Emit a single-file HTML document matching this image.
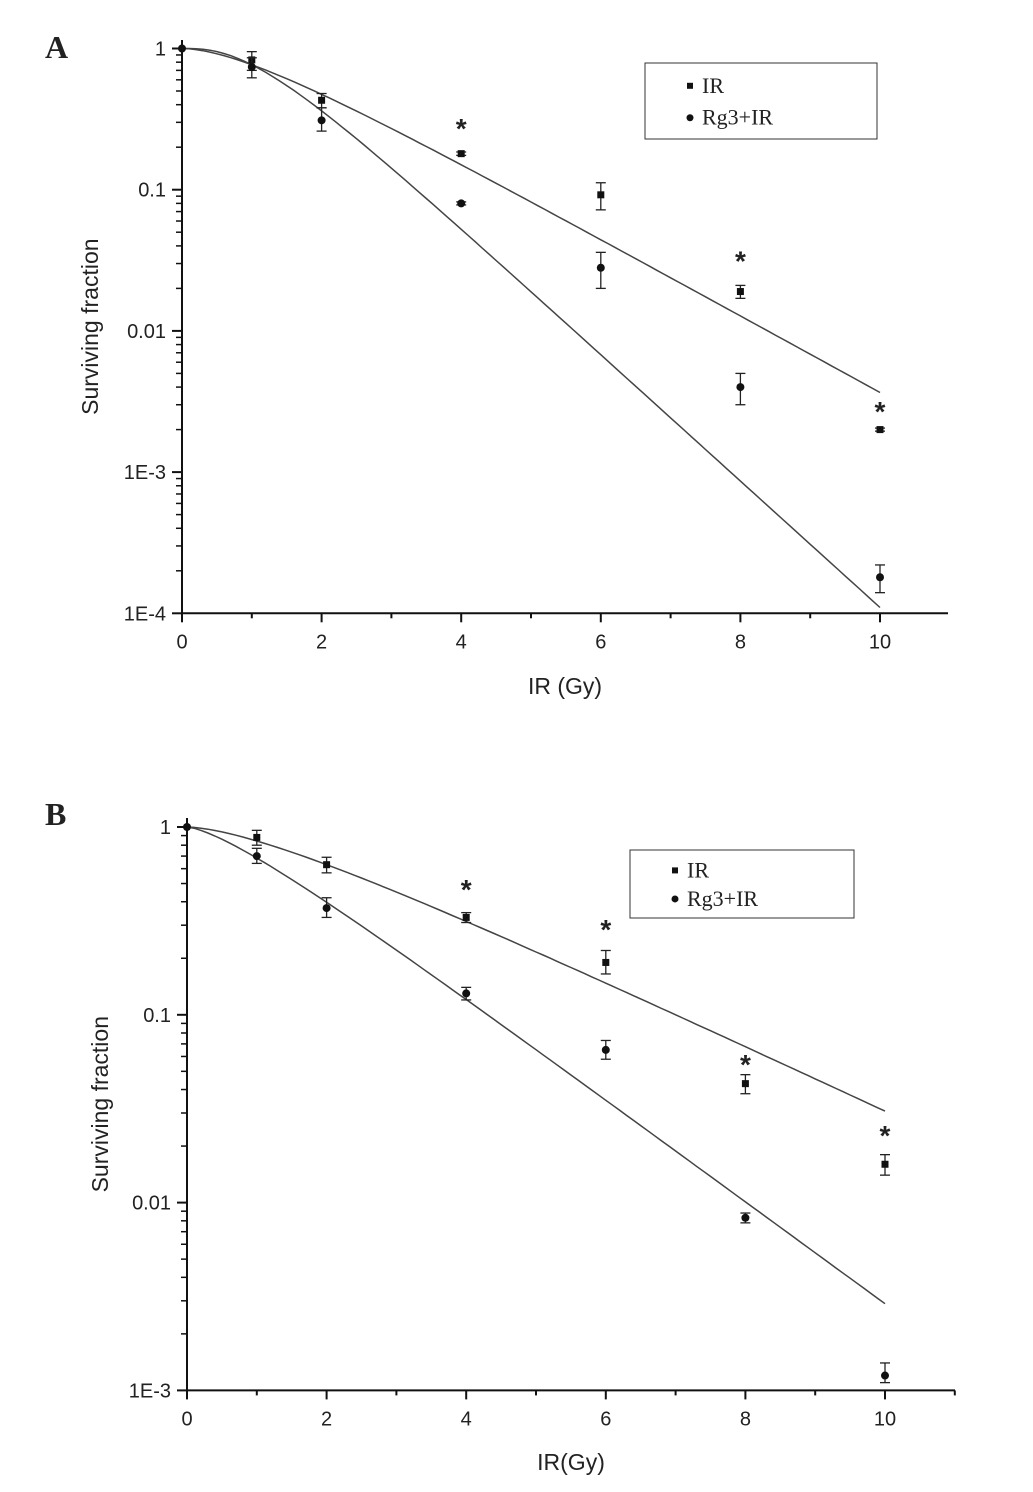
<!DOCTYPE html>
<html><head><meta charset="utf-8"><style>
body{margin:0;background:#fff}
svg text{font-family:"Liberation Sans",sans-serif;fill:#222}
</style></head><body>
<svg id="s" width="1033" height="1487"></svg>
<script>
// Panel A data
const doses=[1,2,4,6,8,10];
const aIR=[0.83,0.43,0.18,0.092,0.019,0.002];
const aIRlo=[0.70,0.38,0.175,0.072,0.017,0.00195];
const aIRhi=[0.95,0.48,0.185,0.112,0.021,0.00205];
const aRg=[0.74,0.31,0.08,0.028,0.004,0.00018];
const aRglo=[0.62,0.26,0.078,0.020,0.003,0.00014];
const aRghi=[0.86,0.38,0.082,0.036,0.005,0.00022];
const aStar=[4,8,10];
const aStarVal=[0.287,0.033,0.00284];
// Panel B data
const bIR=[0.88,0.63,0.33,0.19,0.043,0.016];
const bIRlo=[0.80,0.57,0.31,0.165,0.038,0.014];
const bIRhi=[0.96,0.69,0.35,0.22,0.048,0.018];
const bRg=[0.70,0.37,0.13,0.065,0.0083,0.0012];
const bRglo=[0.64,0.33,0.12,0.058,0.0078,0.0011];
const bRghi=[0.77,0.42,0.14,0.073,0.0088,0.0014];
const bStar=[4,6,8,10];
const bStarVal=[0.485,0.297,0.0568,0.0238];
// fit parameters (multi-target model): [D0, n]
const aFitIR=[1.6,1.9], aFitRg=[0.97,3.3], bFitIR=[2.51,1.66], bFitRg=[1.6,1.5];

const S=document.getElementById('s'),NS='http://www.w3.org/2000/svg';
function el(t,a,p){const e=document.createElementNS(NS,t);for(const k in a)e.setAttribute(k,a[k]);(p||S).appendChild(e);return e;}
function panel(cfg){
  const g=el('g',{});
  
  
  const X=d=>cfg.x0+d*(cfg.x10-cfg.x0)/10;
  const Y=v=>cfg.y1+(-Math.log10(v))*cfg.dec;
  const yb=Y(cfg.ymin);
  el('line',{x1:cfg.x0,y1:cfg.ytop,x2:cfg.x0,y2:yb,stroke:'#111','stroke-width':2},g);
  el('line',{x1:cfg.x0,y1:yb,x2:cfg.xend,y2:yb,stroke:'#111','stroke-width':2},g);
  for(let d=0;d<=11;d++){const x=X(d);if(x>cfg.xend)break;
    el('line',{x1:x,y1:yb,x2:x,y2:yb+(d%2?5:9),stroke:'#111','stroke-width':2},g);
    if(d%2==0){const t=el('text',{x:x,y:yb+35,'text-anchor':'middle','font-size':20},g);t.textContent=d;}}
  const decs=Math.round(-Math.log10(cfg.ymin));
  for(let k=0;k<=decs;k++){const v=Math.pow(10,-k),y=Y(v);
    el('line',{x1:cfg.x0-10,y1:y,x2:cfg.x0,y2:y,stroke:'#111','stroke-width':2},g);
    const t=el('text',{x:cfg.x0-16,y:y+7,'text-anchor':'end','font-size':20},g);t.textContent=cfg.labels[k];
    
    if(k<decs)for(let m=2;m<=9;m++){const yy=Y(v/10*m);el('line',{x1:cfg.x0-6,y1:yy,x2:cfg.x0,y2:yy,stroke:'#111','stroke-width':1.5},g);}
  }
  const fit=(p)=>{let d='';for(let i=0;i<=100;i++){const D=i/10;const v=1-Math.pow(1-Math.exp(-D/p[0]),p[1]);d+=(i?'L':'M')+X(D).toFixed(1)+','+Y(Math.max(v,1e-9)).toFixed(1);}return d;};
  const f1=el('path',{d:fit(cfg.fitIR),fill:'none',stroke:'#444','stroke-width':1.5},g);
  
  const f2=el('path',{d:fit(cfg.fitRg),fill:'none',stroke:'#444','stroke-width':1.5},g);
  
  const pts=(vals,lo,hi,sq)=>{doses.forEach((d,i)=>{const x=X(d);
    el('line',{x1:x,y1:Y(hi[i]),x2:x,y2:Y(lo[i]),stroke:'#222','stroke-width':1.3},g);
    el('line',{x1:x-5,y1:Y(hi[i]),x2:x+5,y2:Y(hi[i]),stroke:'#222','stroke-width':1.3},g);
    el('line',{x1:x-5,y1:Y(lo[i]),x2:x+5,y2:Y(lo[i]),stroke:'#222','stroke-width':1.3},g);
    const m=sq?el('rect',{x:x-3.5,y:Y(vals[i])-3.5,width:7,height:7,fill:'#111'},g):el('circle',{cx:x,cy:Y(vals[i]),r:4,fill:'#111'},g);
    });};
  pts(cfg.ir,cfg.irlo,cfg.irhi,true);pts(cfg.rg,cfg.rglo,cfg.rghi,false);
  el('circle',{cx:X(0),cy:Y(1),r:4,fill:'#111'},g);
  cfg.star.forEach((d,i)=>{const t=el('text',{x:X(d),y:Y(cfg.starVal[i])+13,'text-anchor':'middle','font-size':28,'font-weight':'bold'},g);t.textContent='*';
    });
  const L=cfg.leg;
  const lb=el('rect',{x:L[0],y:L[1],width:L[2],height:L[3],fill:'#fff',stroke:'#333','stroke-width':1},g);
  
  el('rect',{x:L[0]+42,y:L[1]+L[3]*0.3-3,width:6,height:6,fill:'#111'},g);
  el('circle',{cx:L[0]+45,cy:L[1]+L[3]*0.72,r:3.5,fill:'#111'},g);
  let t=el('text',{x:L[0]+57,y:L[1]+L[3]*0.3+7,'font-size':22,style:'font-family:"Liberation Serif",serif'},g);t.textContent='IR';
  
  t=el('text',{x:L[0]+57,y:L[1]+L[3]*0.72+7,'font-size':22,style:'font-family:"Liberation Serif",serif'},g);t.textContent='Rg3+IR';
  
  t=el('text',{x:(cfg.x0+cfg.xend)/2,y:cfg.xtY,'text-anchor':'middle','font-size':23},g);t.textContent=cfg.xt;
  
  const yc=(cfg.ytop+yb)/2;
  t=el('text',{x:cfg.ytX,y:yc,'text-anchor':'middle','font-size':23,transform:`rotate(-90 ${cfg.ytX} ${yc})`},g);t.textContent='Surviving fraction';
  
  t=el('text',{x:45,y:cfg.letterY,'font-size':32,'font-weight':'bold',style:'font-family:"Liberation Serif",serif'},g);t.textContent=cfg.letter;
  
}
panel({name:'panel-a',x0:182,x10:880,xend:948,y1:48.5,dec:141.2,ymin:1e-4,ytop:40,labels:['1','0.1','0.01','1E-3','1E-4'],
  ir:aIR,irlo:aIRlo,irhi:aIRhi,rg:aRg,rglo:aRglo,rghi:aRghi,fitIR:aFitIR,fitRg:aFitRg,star:aStar,starVal:aStarVal,
  leg:[645,63,232,76],xt:'IR (Gy)',xtY:694,ytX:98,letter:'A',letterY:58});
panel({name:'panel-b',x0:187,x10:885,xend:955,y1:827,dec:187.8,ymin:1e-3,ytop:818,labels:['1','0.1','0.01','1E-3'],
  ir:bIR,irlo:bIRlo,irhi:bIRhi,rg:bRg,rglo:bRglo,rghi:bRghi,fitIR:bFitIR,fitRg:bFitRg,star:bStar,starVal:bStarVal,
  leg:[630,850,224,68],xt:'IR(Gy)',xtY:1470,ytX:108,letter:'B',letterY:825});
</script>
</body></html>
